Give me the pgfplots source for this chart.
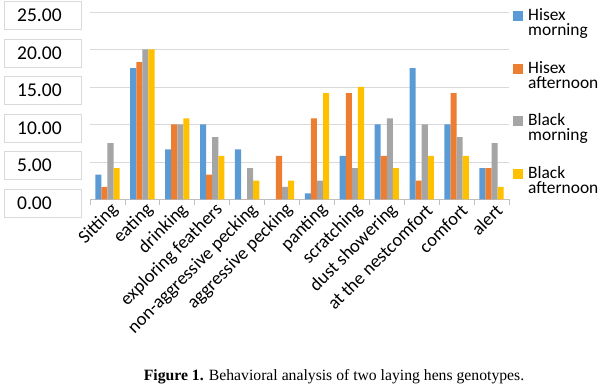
\documentclass[border=0pt]{standalone}
\usepackage{fontspec}
\setmainfont{Carlito}
\newfontfamily\capfont{Liberation Serif}
\usepackage{pgfplots}
\pgfplotsset{compat=1.18}
\definecolor{cBlue}{RGB}{91,155,213}
\definecolor{cOrange}{RGB}{237,125,49}
\definecolor{cGray}{RGB}{165,165,165}
\definecolor{cGold}{RGB}{255,192,0}
\definecolor{cGrid}{RGB}{217,217,217}
\definecolor{cAxis}{RGB}{191,191,191}
\begin{document}
\begin{tikzpicture}
\useasboundingbox (0,0) rectangle (600bp,387bp);
\begin{axis}[
  at={(90bp,187.5bp)}, anchor=south west,
  scale only axis, width=419bp, height=187.5bp,
  ymin=0, ymax=25, xmin=-0.5, xmax=11.5,
  ybar=0pt, bar width=6.1bp,
  ytick={0,5,...,25},
  xtick={0,...,11},
  xticklabels={Sitting,eating,drinking,exploring feathers,non-aggressive pecking,aggressive pecking,panting,scratching,dust showering,at the nestcomfort,comfort,alert},
  minor xtick={-0.5,0.5,...,11.5},
  major tick length=0pt, minor tick length=5bp,
  tick align=outside, xtick pos=bottom,
  minor tick style={draw=cAxis, line width=0.8bp},
  ytick style={draw=none},
  axis x line*=bottom, axis y line*=left,
  x axis line style={draw=cAxis, line width=0.8bp},
  y axis line style={draw=none},
  ymajorgrids, grid style={draw=cGrid, line width=0.8bp},
  /pgf/number format/assume math mode=true,
  yticklabel style={/pgf/number format/.cd, fixed, fixed zerofill, precision=2, /tikz/.cd,
     font=\fontsize{19.5bp}{22bp}\selectfont,
     draw=cGrid, fill=white, text width=51bp, align=left, inner xsep=13bp, inner ysep=0pt,
     minimum height=28bp, anchor=west, xshift=-86bp, yshift=-3.3bp},
  xticklabel style={font=\fontsize{18.5bp}{22bp}\selectfont, rotate=45, anchor=east, inner sep=0pt, xshift=0bp, yshift=-11bp},
  legend style={at={(axis description cs:1.0024,1.03)}, anchor=north west, draw=none, fill=none,
     font=\fontsize{17.4bp}{21.5bp}\selectfont, row sep=24bp, column sep=5bp,
     nodes={inner sep=0pt}},
  legend cell align=left,
  legend image code/.code={\fill[#1] (0bp,1.5bp) rectangle (10bp,11.5bp);},
]
\addplot[fill=cBlue, draw=none] coordinates {(0,3.33) (1,17.5) (2,6.67) (3,10) (4,6.67) (5,0) (6,0.83) (7,5.83) (8,10) (9,17.5) (10,10) (11,4.17)};
\addplot[fill=cOrange, draw=none] coordinates {(0,1.67) (1,18.33) (2,10) (3,3.33) (4,0) (5,5.83) (6,10.83) (7,14.17) (8,5.83) (9,2.5) (10,14.17) (11,4.17)};
\addplot[fill=cGray, draw=none] coordinates {(0,7.5) (1,20) (2,10) (3,8.33) (4,4.17) (5,1.67) (6,2.5) (7,4.17) (8,10.83) (9,10) (10,8.33) (11,7.5)};
\addplot[fill=cGold, draw=none] coordinates {(0,4.17) (1,20) (2,10.83) (3,5.83) (4,2.5) (5,2.5) (6,14.17) (7,15) (8,4.17) (9,5.83) (10,5.83) (11,1.67)};
\legend{{\shortstack[l]{Hisex\\morning}},{\shortstack[l]{Hisex\\afternoon}},{\shortstack[l]{Black\\morning}},{\shortstack[l]{Black\\afternoon}}}
\end{axis}
\node[anchor=base, font=\capfont\fontsize{15.7bp}{18bp}\selectfont, inner sep=0pt] at (334bp,6.3bp) {\textbf{Figure 1.} Behavioral analysis of two laying hens genotypes.};
\end{tikzpicture}
\end{document}
